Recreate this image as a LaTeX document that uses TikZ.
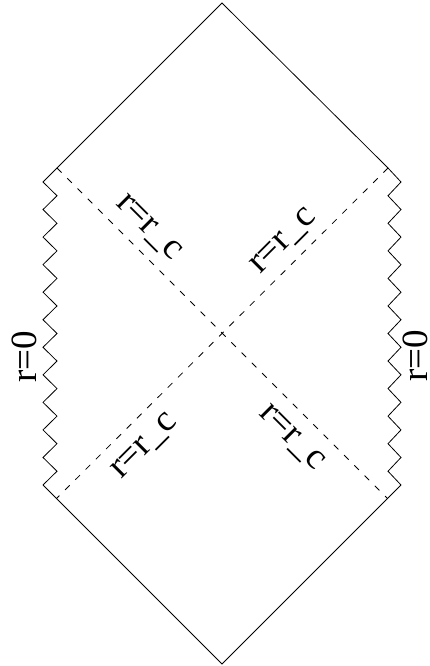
\documentclass[tikz,border=0pt]{standalone}
\usepackage{fontspec}
\setmainfont{Liberation Serif}
\begin{document}
\begin{tikzpicture}[x=1pt,y=-1pt,line width=0.8pt,
  lbl/.style={font=\fontsize{37}{37}\selectfont, inner sep=0pt},
  horizon/.style={dash pattern=on 6.5pt off 8pt}]
\useasboundingbox (0,0) rectangle (429,666);
\coordinate (T) at (222,3);
\coordinate (B) at (222,664);
\coordinate (UL) at (57,168);
\coordinate (UR) at (388,168);
\coordinate (LL) at (43,485);
\coordinate (LR) at (401,485);
\coordinate (DR) at (387.5,498.5);
\coordinate (DL) at (56.5,498.5);
% light-cone boundaries
\draw (UL) -- (T) -- (UR);
\draw (LL) -- (B) -- (LR);
% singularities
\draw (UL) \foreach \k in {0,...,10} { -- (43,{182+27.545*\k}) -- (57,{195.77+27.545*\k}) } -- (LL);
\draw (UR) \foreach \k in {0,...,10} { -- (401,{182+27.545*\k}) -- (388,{195.77+27.545*\k}) } -- (LR);
% horizons
\draw[horizon] (UL) -- (DR);
\draw[horizon] (UR) -- (DL);
% labels
\node[lbl,rotate=-45] (l1) at (148,228) {r=r\_c};
\node[lbl,rotate=45] (l2) at (284,242) {r=r\_c};
\node[lbl,rotate=45] (l3) at (145,447) {r=r\_c};
\node[lbl,rotate=-45] (l4) at (291,438) {r=r\_c};
\node[lbl,rotate=90] (l5) at (24,357) {r=0};
\node[lbl,rotate=90] (l6) at (415,356) {r=0};
\end{tikzpicture}
\end{document}
